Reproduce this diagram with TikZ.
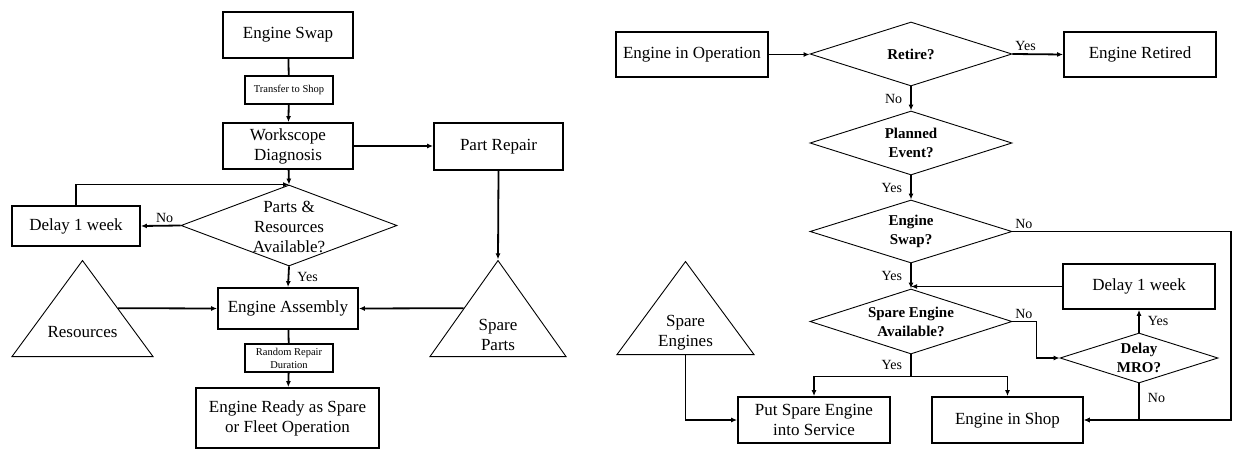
\documentclass[tikz,border=0pt]{standalone}
\usepackage{fontspec}
\setmainfont{Liberation Serif}
\usetikzlibrary{shapes.geometric,arrows.meta}
\tikzset{
  box/.style={draw,line width=1.8pt,inner sep=0pt,align=center,font=\fontsize{17}{20}\selectfont},
  sbox/.style={draw,line width=1.3pt,inner sep=0pt,align=center,font=\fontsize{10.5}{13}\selectfont},
  dia/.style={draw,diamond,line width=.9pt,inner sep=0pt},
  tri/.style={draw,isosceles triangle,isosceles triangle stretches,shape border rotate=90,line width=.9pt,inner sep=0pt,anchor=lower side},
  dtxt/.style={align=center,inner sep=0pt,font=\fontsize{15}{19}\selectfont\bfseries},
  ttxt/.style={align=center,inner sep=0pt,font=\fontsize{17}{20}\selectfont},
  lbl/.style={inner sep=2pt,font=\fontsize{14}{16}\selectfont},
  ln/.style={line width=1.8pt},
  arr/.style={ln,-{Latex[length=6pt,width=5pt]}},
}
\begin{document}
\begin{tikzpicture}[x=1pt,y=-1pt]
\useasboundingbox(0,0)rectangle(1233,449);
% boxes
\foreach \n/\x/\y/\w/\h/\t in {esw/288/35/130/46/Engine Swap,wd/288/146/130/46/{Workscope\\Diagnosis},
  prp/498.5/146.5/129/47/Part Repair,dl/76/226/128/40/Delay 1 week,ea/288/308.5/140/41/Engine Assembly,
  er/287.5/418/183/60/{Engine Ready as Spare\\or Fleet Operation},eio/692/54.5/152/45/Engine in Operation,
  ert/1140/54.5/152/45/Engine Retired,dr/1139/286.5/152/45/Delay 1 week,
  put/814/420/152/46/{Put Spare Engine\\into Service},eis/1007.5/420/151/46/Engine in Shop}{
  \node[box,minimum width=\w pt,minimum height=\h pt](\n)at(\x,\y){\t};
}
\node[sbox,minimum width=88pt,minimum height=28pt](tts)at(289,90){Transfer to Shop};
\node[sbox,minimum width=88pt,minimum height=28pt](rrd)at(289,358){Random Repair\\Duration};
% decisions
\foreach \n/\x/\y/\w/\h/\t in {ret/911/54/202/64/Retire?,pe/911/143/202/64/{Planned\\Event?},
  esq/911/231.5/202/63/{Engine\\Swap?},sea/911/321.5/202/65/{Spare Engine\\Available?},dmro/1139/358/158/50/{Delay\\MRO?}}{
  \node[dia,minimum width=\w pt,minimum height=\h pt](\n)at(\x,\y){};
  \node[dtxt](\n-t)at(\n){\t};
}
\node[dia,minimum width=216pt,minimum height=81pt](pra)at(289,225.5){};
\node[ttxt](pra-t)at(289,227){Parts \&\\Resources\\Available?};
% stocks
\node[tri,minimum width=141pt,minimum height=96pt](res)at(82.5,357){};
\node[ttxt](res-t)at(82.5,332){Resources};
\node[tri,minimum width=136pt,minimum height=96pt](sp)at(498,357){};
\node[ttxt](sp-t)at(498,335){Spare\\Parts};
\node[tri,minimum width=137pt,minimum height=93pt](se)at(685.5,355){};
\node[ttxt](se-t)at(685.5,333){Spare\\Engines};
\coordinate(rgt)at(1231,0);
% left chart
\draw[ln](esw)--(tts);
\draw[arr](tts)--(wd);
\draw[arr](wd.east)--(wd.east-|prp.west);
\draw[arr](wd)--(pra.north);
\draw[arr](pra.west)--node[lbl,above,pos=.4](n1){No}(dl.east);
\draw[arr](dl.north)|-(pra.north);
\draw[arr](pra.south)--node[lbl,right=6pt](y1){Yes}(ea.north);
\draw[arr](res.right side)--(ea.west);
\draw[arr](prp.south)--(sp.apex);
\draw[arr](sp.left side)--(ea.east);
\draw[ln](ea)--(rrd);
\draw[arr](rrd)--(er);
% right chart
\draw[arr](eio.east)--(eio.east-|ret.west);
\draw[arr](ret.east)--node[lbl,above right,pos=0](y2){Yes}(ert.west);
\draw[arr](ret.south)--node[lbl,left=6pt](n2){No}(pe.north);
\draw[arr](pe.south)--node[lbl,left=6pt](y3){Yes}(esq.north);
\draw[arr](esq.south)--node[lbl,left=6pt](y4){Yes}(sea.north);
\draw[arr](esq.east)--node[lbl,above right,pos=0](n3){No}(esq.east-|rgt)|-(eis.east);
\draw[arr](dr.west)--(dr.west-|sea.north);
\draw[arr](sea.east)--node[lbl,above right,pos=0](n4){No}++(24,0)|-(dmro.west);
\draw[arr](dmro.north)--node[lbl,right=6pt](y5){Yes}(dr.south);
\draw[arr](dmro.south)|-node[lbl,right=6pt,pos=.2](n5){No}(eis.east);
\draw[arr](sea.south)--node[lbl,left=6pt](y6){Yes}++(0,22)-|(put.north);
\draw[arr](sea.south)++(0,22)-|(eis.north);
\draw[arr](se.lower side)|-(put.west);
\end{tikzpicture}
\end{document}
